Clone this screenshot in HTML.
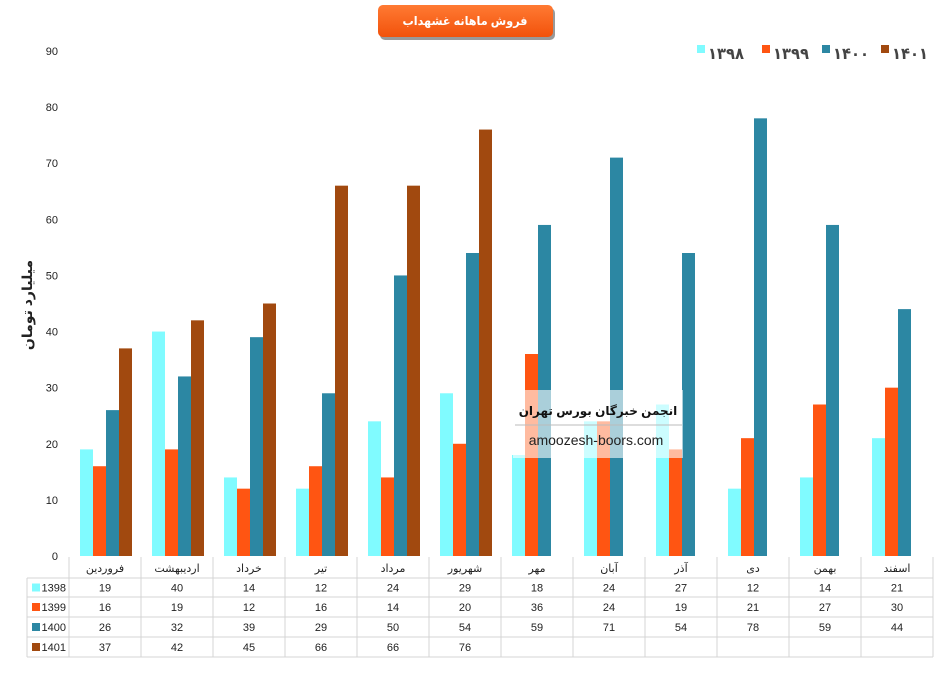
<!DOCTYPE html>
<html><head><meta charset="utf-8">
<style>
body{margin:0;background:#fff;width:942px;height:673px;overflow:hidden;font-family:"Liberation Sans","Noto Sans CJK SC",sans-serif;}
svg text{font-family:"Liberation Sans","DejaVu Sans",sans-serif;}
</style></head><body>
<svg id="chart" width="942" height="673">
<defs>
<linearGradient id="tg" x1="0" y1="0" x2="0" y2="1"><stop offset="0" stop-color="#ff7a33"/><stop offset="1" stop-color="#f2520b"/></linearGradient>
</defs>
<g id="title">
<rect x="380" y="8" width="175" height="32" rx="5" fill="#333" opacity="0.5"/>
<rect x="378" y="5" width="175" height="32" rx="5" fill="url(#tg)"/>
<text x="465" y="25" text-anchor="middle" font-size="12" font-weight="bold" fill="#fff" textLength="125" lengthAdjust="spacingAndGlyphs">فروش ماهانه غشهداب</text>
</g>
<g id="grid"></g>
<g id="bars"></g>
<g id="table"></g>
<g id="legend"></g>
<text transform="translate(32,305) rotate(-90)" text-anchor="middle" font-size="14" font-weight="bold" fill="#222">میلیارد تومان</text>
<g>
<rect x="513" y="390" width="170" height="68" fill="#fff" opacity="0.6"/>
<text x="598" y="415" text-anchor="middle" font-size="12" font-weight="bold" fill="#111">انجمن خبرگان بورس تهران</text>
<line x1="515" y1="425" x2="682" y2="425" stroke="#bbb"/>
<text x="596" y="445" text-anchor="middle" font-size="14" fill="#222">amoozesh-boors.com</text>
</g>
</svg>
<script>
const categories=["فروردین","اردیبهشت","خرداد","تیر","مرداد","شهریور","مهر","آبان","آذر","دی","بهمن","اسفند"];
const seriesNames=["1398","1399","1400","1401"];
const legendNames=["۱۳۹۸","۱۳۹۹","۱۴۰۰","۱۴۰۱"];
const s1398=[19,40,14,12,24,29,18,24,27,12,14,21];
const s1399=[16,19,12,16,14,20,36,24,19,21,27,30];
const s1400=[26,32,39,29,50,54,59,71,54,78,59,44];
const s1401=[37,42,45,66,66,76,null,null,null,null,null,null];
const yTicks=[0,10,20,30,40,50,60,70,80,90];
const colors=["#80fbff","#ff5512","#2c87a3","#a1490f"];
const series=[s1398,s1399,s1400,s1401];
const NS="http://www.w3.org/2000/svg";
const x0=69,colW=72,y0=556,yMax=90,plotH=505;
const y=v=>y0-v/yMax*plotH;
const xc=i=>x0+i*colW;
function mk(t,a,p){const e=document.createElementNS(NS,t);for(const k in a)e.setAttribute(k,a[k]);p.appendChild(e);return e;}
const grid=document.getElementById('grid');
yTicks.forEach(t=>{const e=mk('text',{x:58,y:y(t)+4,'text-anchor':'end','font-size':11,fill:'#222'},grid);e.textContent=t;

});
const bars=document.getElementById('bars');
series.forEach((s,si)=>s.forEach((v,i)=>{if(v==null)return;
const r=mk('rect',{x:xc(i)+11+si*13,y:y(v),width:13,height:y0-y(v),fill:colors[si]},bars);

}));
const tb=document.getElementById('table');
const rowsY=[557,578,597,617,637,657];
const xEnd=x0+12*colW;
for(let i=0;i<=12;i++)mk('line',{x1:xc(i),y1:557,x2:xc(i),y2:657,stroke:'#d4d4d4'},tb);
mk('line',{x1:27,y1:578,x2:27,y2:657,stroke:'#d4d4d4'},tb);
rowsY.forEach((ry,k)=>{if(k==0)return;mk('line',{x1:27,y1:ry,x2:xEnd,y2:ry,stroke:'#d4d4d4'},tb);});
categories.forEach((c,i)=>{const e=mk('text',{x:xc(i)+colW/2,y:572,'text-anchor':'middle','font-size':11,fill:'#222'},tb);e.textContent=c;

});
series.forEach((s,si)=>{const ry=rowsY[si+1],h=rowsY[si+2]-ry;
mk('rect',{x:32,y:ry+h/2-4,width:8,height:8,fill:colors[si]},tb);
const l=mk('text',{x:66,y:ry+h/2+4,'text-anchor':'end','font-size':11,fill:'#222'},tb);l.textContent=seriesNames[si];


s.forEach((v,i)=>{if(v==null)return;const e=mk('text',{x:xc(i)+colW/2,y:ry+h/2+4,'text-anchor':'middle','font-size':11,fill:'#222'},tb);e.textContent=v;

});});
const lg=document.getElementById('legend');
const lx=[697,762,822,881];
legendNames.forEach((n,i)=>{mk('rect',{x:lx[i],y:45,width:8,height:8,fill:colors[i]},lg);
const t=mk('text',{x:lx[i]+11,y:59,'font-size':16,'font-weight':'bold',fill:'#444',textLength:36,lengthAdjust:'spacingAndGlyphs'},lg);t.textContent=n;

});
</script>
</body></html>
